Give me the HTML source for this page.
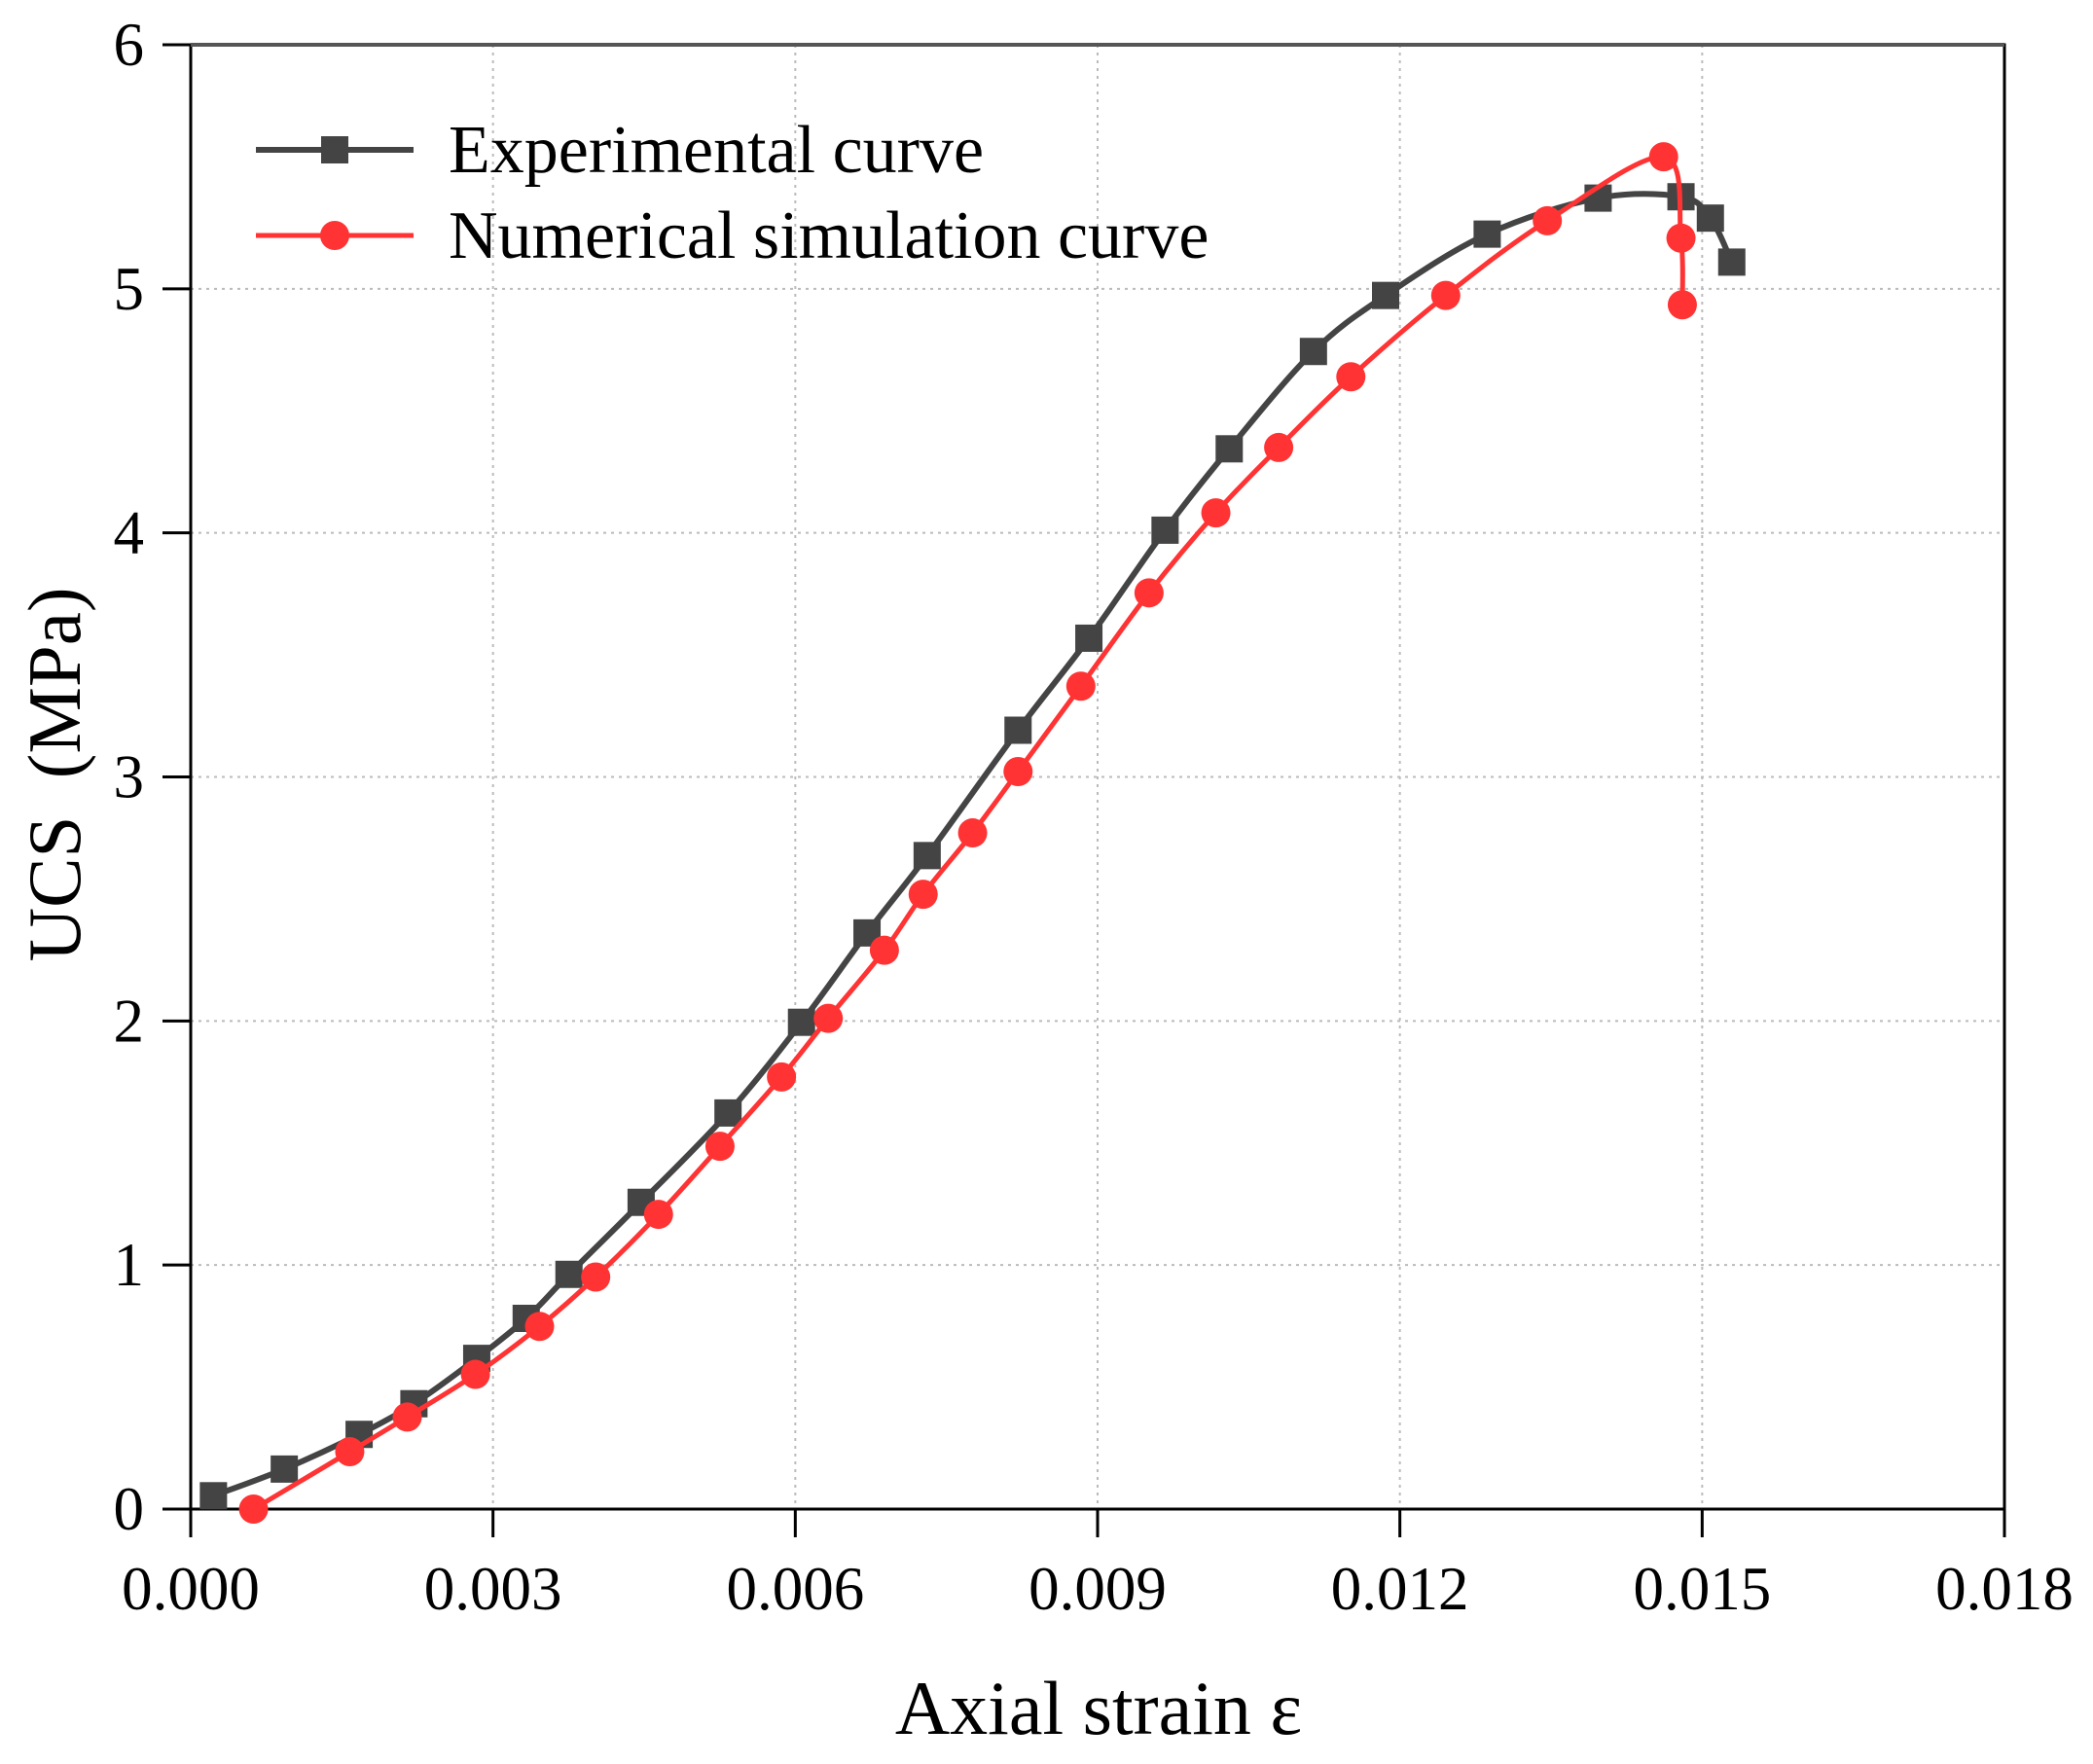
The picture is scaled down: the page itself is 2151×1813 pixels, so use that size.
<!DOCTYPE html>
<html><head><meta charset="utf-8"><style>
html,body{margin:0;padding:0;background:#fff;}
svg{display:block;}
text{font-family:"Liberation Serif",serif;fill:#000;}
</style></head><body>
<svg id="s" width="2151" height="1813" viewBox="0 0 2151 1813" xmlns="http://www.w3.org/2000/svg">
<g id="grid" stroke="#bbb" stroke-width="2" stroke-dasharray="3,5"></g>
<rect x="196" y="46" width="1864" height="1505" fill="none" stroke="#000" stroke-width="3"/>
<line x1="196" y1="46" x2="2060" y2="46" stroke="#555" stroke-width="4"/>
<g id="ticks" stroke="#000" stroke-width="3"></g>
<g id="tl" font-size="63"></g>
<g id="series"></g>
<text x="1129" y="1782" font-size="78" text-anchor="middle">Axial strain ε</text>
<text transform="translate(82,796) rotate(-90)" font-size="77" text-anchor="middle" xml:space="preserve">UCS  (MPa)</text>
<line x1="263" y1="154" x2="425" y2="154" stroke="#444" stroke-width="6"/>
<rect x="330" y="140" width="28" height="28" fill="#444"/>
<text x="461" y="177" font-size="70">Experimental curve</text>
<line x1="263" y1="242" x2="425" y2="242" stroke="#f33" stroke-width="5"/>
<circle cx="344" cy="242" r="15" fill="#f33"/>
<text x="461" y="265" font-size="70">Numerical simulation curve</text>
</svg>
<script>
var NS="http://www.w3.org/2000/svg";
function el(p,t,a,txt){var e=document.createElementNS(NS,t);for(var k in a)e.setAttribute(k,a[k]);if(txt!==undefined)e.textContent=txt;document.getElementById(p).appendChild(e);return e;}
var L=196,R=2060,T=46,B=1551;
for(var i=0;i<=6;i++){var x=L+i*(R-L)/6;
 if(i>0&&i<6)el('grid','line',{x1:x,y1:T,x2:x,y2:B});
 el('ticks','line',{x1:x,y1:B,x2:x,y2:B+29});
 el('tl','text',{x:x,y:1654,'text-anchor':'middle'},(i*0.003).toFixed(3));}
for(var j=0;j<=6;j++){var y=B-j*(B-T)/6;
 if(j>0&&j<6)el('grid','line',{x1:L,y1:y,x2:R,y2:y});
 el('ticks','line',{x1:L-29,y1:y,x2:L,y2:y});
 el('tl','text',{x:148,y:y+21,'text-anchor':'end'},j);}
function tr(p){return p.map(function(q){return [196+(q[0]-143)*1.3736,1551-(1131-q[1])*1.3707];});}
var ex=tr([[160,1121],[213,1101],[269,1075],[310,1052],[357,1018],[394,988],[426,955],[480,901],[545,834],[600,766],[649,699],[694,641],[762,547],[815,478],[872,397],[920,336],[983,263],[1037,221],[1113,175],[1196,148],[1258,147],[1280,163],[1296,196]]);
var nu=tr([[190,1131],[262,1088],[305,1062],[356,1030],[404,994],[446,957],[493,910],[539,859],[585,807],[620,763],[662,712],[691,670],[728,624],[762,578],[809,514],[860,444],[910,384],[957,335],[1011,282],[1082,221],[1158,165],[1245,117],[1258,178],[1259,228]]);
function path(p){var d='M'+p[0][0]+','+p[0][1];for(var i=0;i<p.length-1;i++){var p0=p[i-1]||p[i],p1=p[i],p2=p[i+1],p3=p[i+2]||p2;
 d+=' C'+(p1[0]+(p2[0]-p0[0])/6)+','+(p1[1]+(p2[1]-p0[1])/6)+' '+(p2[0]-(p3[0]-p1[0])/6)+','+(p2[1]-(p3[1]-p1[1])/6)+' '+p2[0]+','+p2[1];}return d;}
el('series','path',{d:path(ex),fill:'none',stroke:'#444','stroke-width':6});
ex.forEach(function(q){el('series','rect',{x:q[0]-14,y:q[1]-14,width:28,height:28,fill:'#444'});});
el('series','path',{d:path(nu),fill:'none',stroke:'#f33','stroke-width':5});
nu.forEach(function(q){el('series','circle',{cx:q[0],cy:q[1],r:15,fill:'#f33'});});
</script>
</body></html>
